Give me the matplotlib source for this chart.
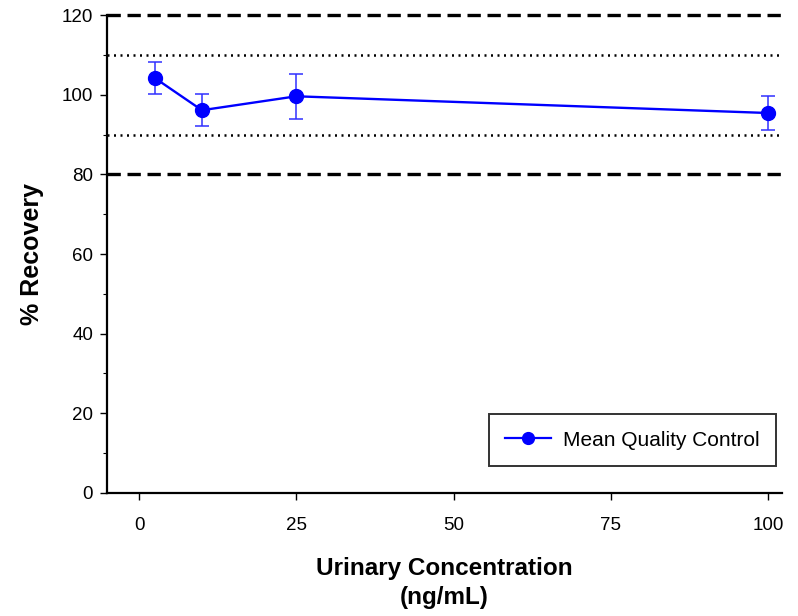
import numpy as np
import matplotlib.pyplot as plt
from matplotlib.lines import Line2D

plt.rcParams.update({
    "font.family": ["Liberation Sans", "DejaVu Sans"],
    "font.size": 14,
})

# data
conc = [2.5, 10, 25, 100]
recovery = [104.2, 96.1, 99.6, 95.4]
err_low = [4.1, 4.0, 5.6, 4.2]
err_high = [3.9, 4.0, 5.6, 4.3]

x_ticks = [0, 25, 50, 75, 100]
y_ticks = [0, 20, 40, 60, 80, 100, 120]

fig = plt.figure(figsize=(7.98, 6.16), dpi=100)
ax = fig.add_axes([0.134, 0.1997, 0.846, 0.7759])

# acceptance limits
ax.axhline(120, color="black", lw=2.4, ls=(0, (4, 2)), zorder=1, clip_on=False)
ax.axhline(80, color="black", lw=2.4, ls=(0, (4, 2)), zorder=1)
ax.axhline(110, color="black", lw=1.8, ls=(0, (0.8, 1.8)), zorder=1)
ax.axhline(90, color="black", lw=1.8, ls=(0, (0.8, 1.8)), zorder=1)

ax.errorbar(conc, recovery, yerr=[err_low, err_high],
            fmt="o-", color="#0000ff", ecolor="#3030ff",
            lw=1.7, elinewidth=1.1, capsize=5, capthick=1.1,
            markersize=10, zorder=3)

ax.set_xlim(-5.1, 102.2)
ax.set_ylim(0, 120)
ax.set_xticks(x_ticks)
ax.set_yticks(y_ticks)
ax.set_yticks(np.arange(10, 120, 20), minor=True)

for s in ["top", "right"]:
    ax.spines[s].set_visible(False)
for s in ["left", "bottom"]:
    ax.spines[s].set_linewidth(1.6)

ax.tick_params(axis="both", which="major", direction="out", length=5,
               width=1.0, labelsize=13.5)
ax.tick_params(axis="y", which="minor", direction="out", length=3, width=0.8)
ax.tick_params(axis="y", pad=5)
ax.tick_params(axis="x", pad=12)

ax.set_ylabel("% Recovery", fontsize=18, fontweight="bold", labelpad=13)
ax.set_xlabel("Urinary Concentration\n(ng/mL)", fontsize=17.5,
              fontweight="bold", labelpad=17, linespacing=1.3)

handle = Line2D([], [], color="#0000ff", lw=1.6, marker="o", markersize=8.5)
leg = ax.legend([handle], ["Mean Quality Control"], loc="lower right",
                bbox_to_anchor=(0.991, 0.056), fancybox=False,
                edgecolor="black", fontsize=15, handlelength=2.2,
                handletextpad=0.55, borderpad=0.8, borderaxespad=0)
leg.get_frame().set_linewidth(1.4)

fig.savefig("out.png", dpi=100)
